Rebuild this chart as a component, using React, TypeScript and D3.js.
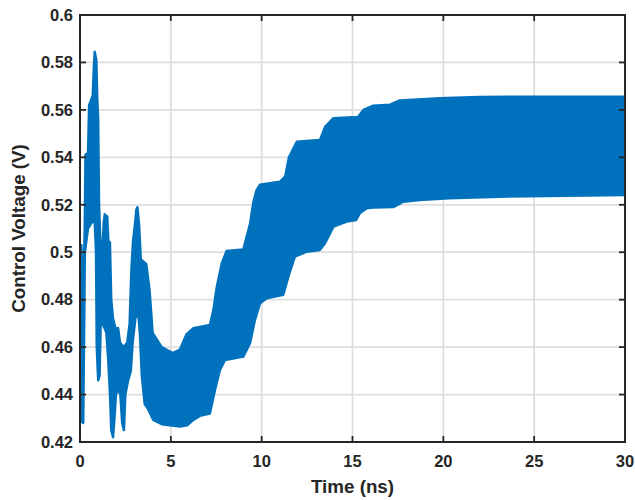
import React from "react";
import * as d3 from "d3";

// Time axis ticks (ns) and voltage axis ticks (V)
const xTicks = [0, 5, 10, 15, 20, 25, 30];
const yTicks = [0.42, 0.44, 0.46, 0.48, 0.5, 0.52, 0.54, 0.56, 0.58, 0.6];
const xTickLabels = ["0", "5", "10", "15", "20", "25", "30"];
const yTickLabels = ["0.42", "0.44", "0.46", "0.48", "0.5", "0.52", "0.54", "0.56", "0.58", "0.6"];

// Upper envelope of the (densely oscillating) control voltage: [time ns, volts]
const upperEnvelope: [number, number][] = [
  [0, 0.47], [0.02, 0.503], [0.08, 0.503], [0.12, 0.485], [0.2, 0.49], [0.26, 0.51],
  [0.3, 0.541], [0.44, 0.542], [0.5, 0.562], [0.7, 0.566], [0.76, 0.578], [0.81, 0.5845],
  [0.9, 0.581], [0.95, 0.565], [1.0, 0.557], [1.05, 0.52], [1.12, 0.505], [1.18, 0.5],
  [1.26, 0.505], [1.3, 0.512], [1.36, 0.516], [1.5, 0.515], [1.56, 0.505], [1.65, 0.504],
  [1.72, 0.48], [1.82, 0.472], [1.95, 0.468], [2.1, 0.468], [2.2, 0.462], [2.4, 0.46],
  [2.6, 0.462], [2.73, 0.47], [2.83, 0.493], [2.92, 0.505], [3.0, 0.51], [3.1, 0.518],
  [3.16, 0.519], [3.25, 0.512], [3.35, 0.497], [3.5, 0.496], [3.65, 0.495], [3.83, 0.484],
  [4.0, 0.466], [4.5, 0.46], [5.1, 0.4575], [5.5, 0.459], [5.87, 0.4655], [6.24, 0.468],
  [7.15, 0.4693], [7.34, 0.4756], [7.52, 0.485], [7.8, 0.4953], [8.07, 0.5005], [8.99, 0.5012],
  [9.17, 0.5065], [9.36, 0.512], [9.54, 0.521], [9.72, 0.5262], [9.91, 0.5285], [11.0, 0.5297],
  [11.3, 0.532], [11.5, 0.54], [11.93, 0.5466], [13.21, 0.5473], [13.5, 0.553], [13.95, 0.5565],
  [15.3, 0.557], [15.6, 0.56], [16.14, 0.5618], [17.06, 0.5622], [17.6, 0.564], [19.8, 0.5649],
  [22.0, 0.5655], [30.0, 0.5656],
];

// Lower envelope: [time ns, volts]
const lowerEnvelope: [number, number][] = [
  [0, 0.44], [0.04, 0.429], [0.18, 0.428], [0.22, 0.46], [0.27, 0.5], [0.44, 0.51],
  [0.6, 0.512], [0.8, 0.514], [0.88, 0.5], [0.92, 0.46], [1.0, 0.446], [1.08, 0.448],
  [1.14, 0.47], [1.22, 0.47], [1.35, 0.468], [1.45, 0.466], [1.55, 0.455], [1.65, 0.44],
  [1.72, 0.425], [1.82, 0.422], [1.9, 0.43], [1.98, 0.44], [2.1, 0.442], [2.22, 0.44],
  [2.32, 0.428], [2.42, 0.425], [2.5, 0.44], [2.65, 0.446], [2.8, 0.45], [2.9, 0.462],
  [3.05, 0.472], [3.2, 0.475], [3.3, 0.465], [3.4, 0.448], [3.56, 0.436], [3.74, 0.434],
  [4.03, 0.4293], [4.5, 0.4275], [5.5, 0.4265], [5.9, 0.427], [6.24, 0.4293], [6.6, 0.431],
  [7.15, 0.432], [7.43, 0.4419], [7.7, 0.4503], [7.98, 0.4545], [8.99, 0.456], [9.36, 0.4616],
  [9.63, 0.4714], [9.91, 0.4785], [10.28, 0.4806], [11.19, 0.482], [11.47, 0.4897], [11.83, 0.4981],
  [12.48, 0.5002], [13.2, 0.5009], [13.49, 0.5038], [13.95, 0.5108], [14.68, 0.5129], [15.2, 0.5136],
  [15.4, 0.5164], [15.78, 0.5185], [16.14, 0.5188], [17.24, 0.519], [17.8, 0.5213], [18.7, 0.522],
  [20.3, 0.5227], [23.1, 0.5234], [30.0, 0.5241],
];

const W = 635;
const H = 500;
const M = { left: 80, right: 625, top: 15, bottom: 442 };
const AX = "#262626";
const GRID = "#dedede";
const BLUE = "#0072BD";
const FONT = "'Liberation Sans', Arial, Helvetica, sans-serif";

export default function App() {
  const x = d3.scaleLinear().domain([0, 30]).range([M.left, M.right]);
  const y = d3.scaleLinear().domain([0.42, 0.6]).range([M.bottom, M.top]);

  const poly: [number, number][] = [...upperEnvelope, ...lowerEnvelope.slice().reverse()];
  const line = d3
    .line<[number, number]>()
    .x((d) => x(d[0]))
    .y((d) => y(d[1]));
  const bandPath = (line(poly) || "") + "Z";

  const tickLen = 6;

  return (
    <svg
      width={W}
      height={H}
      style={{ position: "absolute", left: 0, top: 0, background: "#fff" }}
      fontFamily={FONT}
    >
      <rect x={0} y={0} width={W} height={H} fill="#fff" />
      <defs>
        <clipPath id="plotClip">
          <rect x={M.left} y={M.top} width={M.right - M.left} height={M.bottom - M.top} />
        </clipPath>
      </defs>
      {/* grid */}
      {xTicks.slice(1, -1).map((t) => (
        <line key={"gx" + t} x1={x(t)} x2={x(t)} y1={M.top} y2={M.bottom} stroke={GRID} strokeWidth={1.8} />
      ))}
      {yTicks.slice(1, -1).map((t) => (
        <line key={"gy" + t} x1={M.left} x2={M.right} y1={y(t)} y2={y(t)} stroke={GRID} strokeWidth={1.8} />
      ))}
      {/* data band */}
      <path
        d={bandPath}
        fill={BLUE}
        stroke={BLUE}
        strokeWidth={2.4}
        strokeLinejoin="round"
        clipPath="url(#plotClip)"
      />
      {/* ticks */}
      {xTicks.map((t) => (
        <g key={"tx" + t}>
          <line x1={x(t)} x2={x(t)} y1={M.bottom} y2={M.bottom - tickLen} stroke={AX} strokeWidth={1.8} />
          <line x1={x(t)} x2={x(t)} y1={M.top} y2={M.top + tickLen} stroke={AX} strokeWidth={1.8} />
        </g>
      ))}
      {yTicks.map((t) => (
        <g key={"ty" + t}>
          <line x1={M.left} x2={M.left + tickLen} y1={y(t)} y2={y(t)} stroke={AX} strokeWidth={1.8} />
          <line x1={M.right} x2={M.right - tickLen} y1={y(t)} y2={y(t)} stroke={AX} strokeWidth={1.8} />
        </g>
      ))}
      {/* box */}
      <rect
        x={M.left}
        y={M.top}
        width={M.right - M.left}
        height={M.bottom - M.top}
        fill="none"
        stroke={AX}
        strokeWidth={2}
      />
      {/* tick labels */}
      {xTicks.map((t, i) => (
        <text
          key={"lx" + t}
          x={x(t)}
          y={M.bottom + 25}
          textAnchor="middle"
          fontSize={16.5}
          fontWeight="bold"
          fill={AX}
        >
          {xTickLabels[i]}
        </text>
      ))}
      {yTicks.map((t, i) => (
        <text
          key={"ly" + t}
          x={M.left - 7}
          y={y(t)}
          dy="0.35em"
          textAnchor="end"
          fontSize={16.5}
          fontWeight="bold"
          fill={AX}
        >
          {yTickLabels[i]}
        </text>
      ))}
      {/* axis labels */}
      <text
        x={(M.left + M.right) / 2}
        y={493}
        textAnchor="middle"
        fontSize={18.8}
        fontWeight="bold"
        fill={AX}
      >
        Time (ns)
      </text>
      <text
        transform={`translate(25, ${(M.top + M.bottom) / 2}) rotate(-90)`}
        textAnchor="middle"
        fontSize={18.8}
        fontWeight="bold"
        fill={AX}
      >
        Control Voltage (V)
      </text>
    </svg>
  );
}
